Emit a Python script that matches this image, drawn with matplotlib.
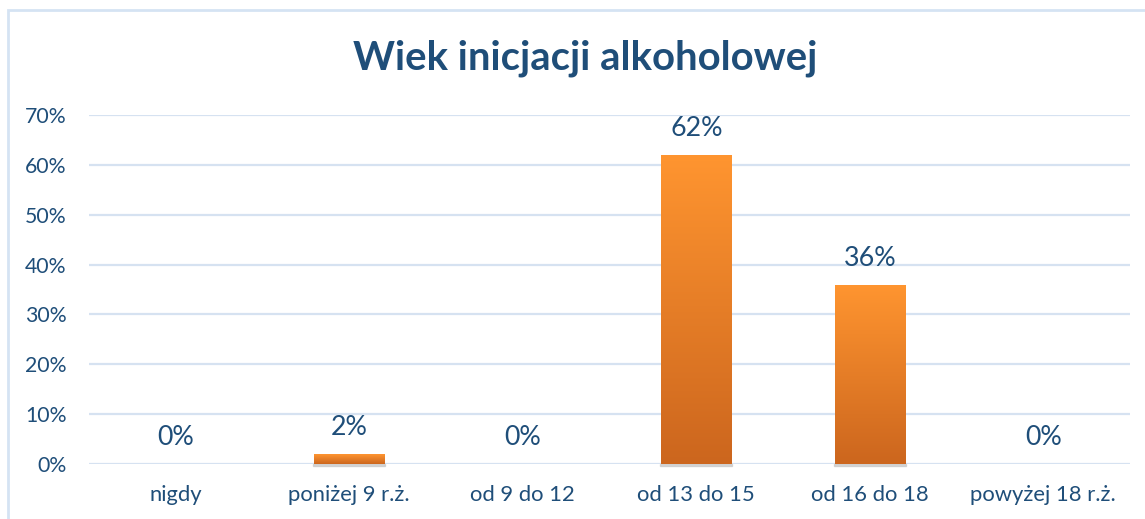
import matplotlib
matplotlib.use("Agg")
import matplotlib.pyplot as plt
import numpy as np
from matplotlib.colors import LinearSegmentedColormap
from matplotlib.patches import Rectangle

categories = ["nigdy", "poniżej 9 r.ż.", "od 9 do 12", "od 13 do 15", "od 16 do 18", "powyżej 18 r.ż."]
values = [0.00, 0.02, 0.00, 0.62, 0.36, 0.00]
yticks = [0, 0.1, 0.2, 0.3, 0.4, 0.5, 0.6, 0.7]
title = "Wiek inicjacji alkoholowej"

TEXT = "#1F4E79"
FONT = ["Lato", "DejaVu Sans"]

fig = plt.figure(figsize=(11.45, 5.19), dpi=100)
# outer border
fig.patches.append(Rectangle((8/1145, -0.1), 1.2, 1 - 10/519 + 0.1, transform=fig.transFigure,
                             fill=False, edgecolor="#D5E3F3", linewidth=2))
ax = fig.add_axes([89/1145, 1 - 464/519, (1130 - 89)/1145, (464 - 115)/519])
ax.set_xlim(-0.5, len(categories) - 0.5)
ax.set_ylim(0, 0.7)
for s in ax.spines.values():
    s.set_visible(False)
ax.set_yticks(yticks)
ax.set_yticklabels([f"{int(round(t*100))}%" for t in yticks], color=TEXT, fontsize=15.3, family=FONT)
ax.tick_params(axis="y", length=0, pad=16)
ax.set_xticks(range(len(categories)))
ax.set_xticklabels(categories, color=TEXT, fontsize=15.8, family=FONT)
ax.tick_params(axis="x", length=0, pad=15)
for t in yticks:
    ax.axhline(t, color="#D6E2F1", linewidth=1.6, zorder=0)

cmap = LinearSegmentedColormap.from_list("og", ["#CC661E", "#FF9530"])
grad = np.linspace(0, 1, 256).reshape(-1, 1)
bars = ax.bar(range(len(categories)), values, width=0.405, color="#F08A2A", zorder=2)
for b, v in zip(bars, values):
    if v > 0:
        x0 = b.get_x(); w = b.get_width()
        # shadow
        ax.add_patch(Rectangle((x0 - 0.005, -0.004), w + 0.01, 0.004, color="#BFBFBF", alpha=0.6, zorder=1, clip_on=False))
        im = ax.imshow(grad, extent=[x0, x0 + w, 0, v], origin="lower", aspect="auto", cmap=cmap, zorder=3)
        im.set_clip_path(b)
    ax.annotate(f"{int(round(v*100))}%", (b.get_x() + b.get_width()/2, v), xytext=(0, 19),
                textcoords="offset points", ha="center", va="center", color=TEXT, fontsize=19.3, family=FONT)
ax.set_xlim(-0.5, len(categories) - 0.5)
ax.set_ylim(0, 0.7)

fig.text(585/1145, 1 - 58/519, title, ha="center", va="center", color=TEXT, fontsize=28.8,
         fontweight="bold", family=FONT)

fig.savefig("out.png", dpi=100)
